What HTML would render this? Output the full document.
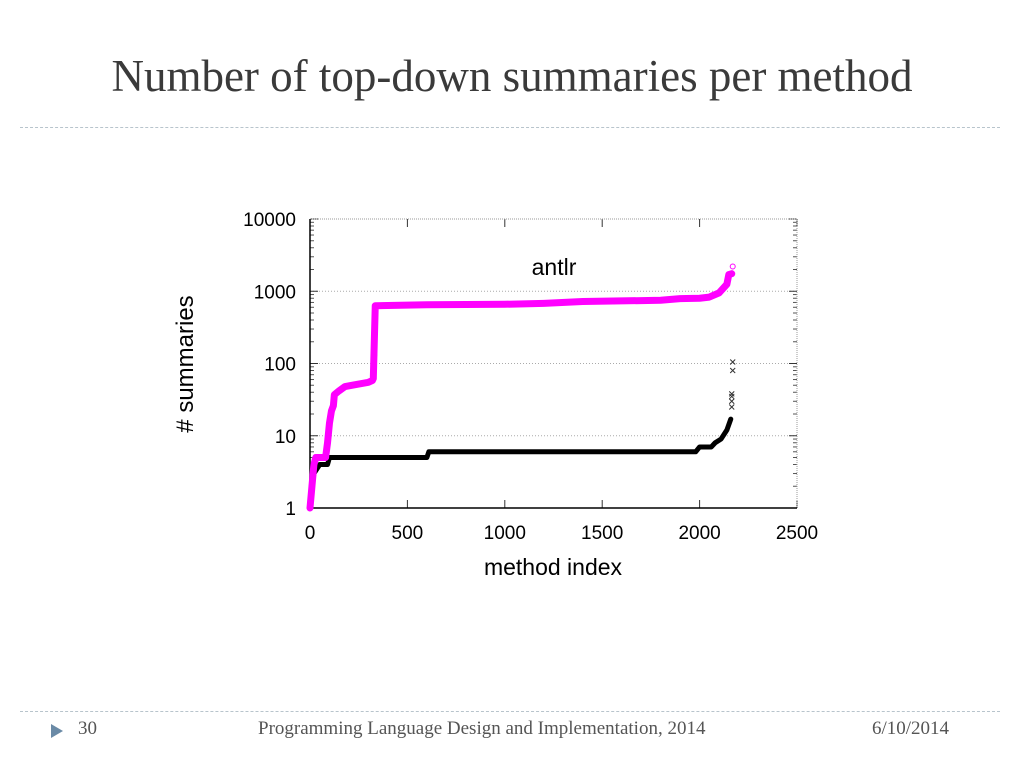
<!DOCTYPE html>
<html><head><meta charset="utf-8"><style>
body{margin:0;width:1024px;height:768px;background:#fff;overflow:hidden;position:relative;font-family:"Liberation Sans",sans-serif}
.t{position:absolute}
</style></head><body>
<div class="t" style="left:0;width:1024px;top:50px;text-align:center;font-family:'Liberation Serif',serif;font-size:45px;color:#3a3a3a">Number of top-down summaries per method</div>
<div class="t" style="left:20px;width:980px;top:127px;border-top:1px dashed #b8c4cc"></div>
<div class="t" style="left:20px;width:980px;top:711px;border-top:1px dashed #b8c4cc"></div>
<svg class="t" style="left:50px;top:723px" width="14" height="16"><polygon points="1,1 13,8 1,15" fill="#6a8aa6"/></svg>
<div class="t" style="left:78px;top:718px;font-family:'Liberation Serif',serif;font-size:19px;color:#555">30</div>
<div class="t" style="left:258px;top:718px;font-family:'Liberation Serif',serif;font-size:19px;color:#555">Programming Language Design and Implementation, 2014</div>
<div class="t" style="left:872px;top:718px;font-family:'Liberation Serif',serif;font-size:19px;color:#555">6/10/2014</div>
<svg id="chart" class="t" style="left:0;top:0" width="1024" height="768"></svg>
<script>
const xTicks=[0,500,1000,1500,2000,2500];
const yTicks=[1,10,100,1000,10000];
const pinkIdx=[0,10,20,30,80,90,100,110,120,125,150,180,250,300,320,325,335,600,1000,1200,1400,1800,1900,2000,2050,2100,2140,2150,2165];
const pinkVal=[1,2,4,5,5,8,15,22,26,37,42,48,52,55,58,62,630,650,660,680,720,750,790,800,830,950,1250,1700,1750];
const pinkOutIdx=[330,2170];
const pinkOutVal=[130,2200];
const blackIdx=[0,10,20,50,90,100,600,610,1980,2000,2060,2080,2110,2140,2160];
const blackVal=[1,2,3,4,4,5,5,6,6,7,7,8,9,12,17];
const blackOutIdx=[2165,2165,2165,2165,2170,2170];
const blackOutVal=[25,30,35,38,80,105];
const X0=310,X1=797,Y0=508,Y1=219;
const sx=v=>X0+(v-0)/(2500)*(X1-X0);
const sy=v=>Y0-(Math.log10(v))/4*(Y0-Y1);
const svg=document.getElementById('chart');
const NS='http://www.w3.org/2000/svg';
function mk(tag,attrs){const e=document.createElementNS(NS,tag);for(const k in attrs)e.setAttribute(k,attrs[k]);svg.appendChild(e);return e;}
yTicks.forEach(v=>{if(v>1&&v<10000){const g=mk('line',{x1:X0,x2:X1,y1:sy(v),y2:sy(v),stroke:'#aaa','stroke-dasharray':'1,2'});

}
for(let m=2;m<10&&v<10000;m++){const yy=sy(v*m);mk('line',{x1:X0,x2:X0+4,y1:yy,y2:yy,stroke:'#555'});mk('line',{x1:X1-4,x2:X1,y1:yy,y2:yy,stroke:'#555'});}
mk('line',{x1:X0,x2:X0+8,y1:sy(v),y2:sy(v),stroke:'#333'});mk('line',{x1:X1-8,x2:X1,y1:sy(v),y2:sy(v),stroke:'#333'});
const t=mk('text',{x:X0-14,y:sy(v)+7,'text-anchor':'end','font-size':19,fill:'#000'});t.textContent=v;

});
xTicks.forEach(v=>{mk('line',{x1:sx(v),x2:sx(v),y1:Y0,y2:Y0-8,stroke:'#333'});mk('line',{x1:sx(v),x2:sx(v),y1:Y1,y2:Y1+8,stroke:'#333'});
const t=mk('text',{x:sx(v),y:Y0+31,'text-anchor':'middle','font-size':19,fill:'#000'});t.textContent=v;

});
const box=mk('rect',{x:X0,y:Y1,width:X1-X0,height:Y0-Y1,fill:'none',stroke:'#999','stroke-dasharray':'1,1'});


mk('line',{x1:X0,x2:X0,y1:Y1,y2:Y0,stroke:'#000','stroke-width':1.5});
mk('line',{x1:X0,x2:X1,y1:Y0,y2:Y0,stroke:'#000','stroke-width':1.5});
function series(idx,val,color,w,name){
const p=mk('polyline',{points:idx.map((d,i)=>sx(d)+','+sy(val[i])).join(' '),fill:'none',stroke:color,'stroke-width':w,'stroke-linejoin':'round','stroke-linecap':'round'});

}
series(blackIdx,blackVal,'#000',5,'black-series');
series(pinkIdx,pinkVal,'#f0f',7,'pink-series');
pinkOutIdx.forEach((d,i)=>{const c=mk('circle',{cx:sx(d),cy:sy(pinkOutVal[i]),r:2.5,fill:'none',stroke:'#f0f'});

});
blackOutIdx.forEach((d,i)=>{const x=sx(d),y=sy(blackOutVal[i]);const c=mk('path',{d:`M${x-2.5},${y-2.5}L${x+2.5},${y+2.5}M${x-2.5},${y+2.5}L${x+2.5},${y-2.5}`,stroke:'#333','stroke-width':1});

});
const ti=mk('text',{x:554,y:275,'text-anchor':'middle','font-size':23,fill:'#000'});ti.textContent='antlr';


const xl=mk('text',{x:553,y:575,'text-anchor':'middle','font-size':23,fill:'#000'});xl.textContent='method index';


const yl=mk('text',{x:0,y:0,'text-anchor':'middle','font-size':24,fill:'#000',transform:'translate(193,364) rotate(-90)'});yl.textContent='# summaries';


</script>
</body></html>
